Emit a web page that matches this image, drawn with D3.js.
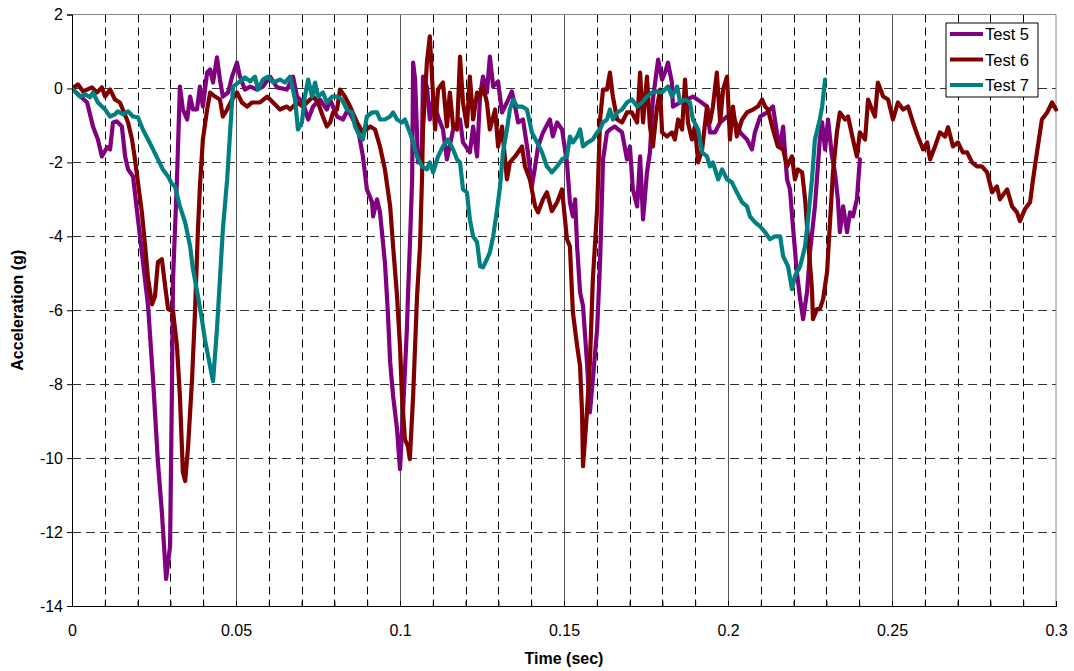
<!DOCTYPE html>
<html lang="en">
<head>
<meta charset="UTF-8">
<title>Acceleration vs Time</title>
<script src="https://d3js.org/d3.v7.min.js"></script>
<style>
  body { margin: 0; background: #fff; font-family: "Liberation Sans", Arial, sans-serif; }
  .tick text { font-size: 16px; fill: #000; }
</style>
</head>
<body>
<svg width="1074" height="671"></svg>
<script>
// series: [time (sec), acceleration (g)]
var test5 = [
  [0,0],[0.0046,-0.38],[0.0064,-1.03],[0.0079,-1.38],[0.0091,-1.84],[0.0107,-1.59],[0.0116,-1.65],[0.0125,-0.92],[0.0137,-0.89],[0.0152,-1.03],[0.0162,-1.84],[0.0171,-2.19],[0.0186,-2.38],[0.0232,-5.89],[0.0247,-7.86],[0.0262,-10.11],[0.0274,-11.46],[0.0287,-13.27],[0.0299,-12.38],[0.0305,-7.86],[0.0308,-5.16],[0.0320,-2.46],[0.0329,0.05],[0.0338,-0.57],[0.0351,-0.84],[0.0360,-0.22],[0.0369,-0.57],[0.0381,-0.57],[0.0390,0.05],[0.0399,-0.49],[0.0412,0.43],[0.0421,0.51],[0.0430,0.16],[0.0442,0.84],[0.0451,0.24],[0.0460,-0.22],[0.0476,-0.11],[0.0488,0.32],[0.0503,0.70],[0.0512,0.32],[0.0527,-0.03],[0.0543,0.05],[0.0564,-0.03],[0.0582,0.05],[0.0604,0.32],[0.0625,0.03],[0.0655,-0.03],[0.0674,0.32],[0.0686,-0.22],[0.0704,-0.38],[0.0720,-0.84],[0.0735,-0.49],[0.0756,-0.30],[0.0777,-0.57],[0.0787,-0.30],[0.0808,-0.76],[0.0826,-0.84],[0.0841,-0.57],[0.0857,-0.84],[0.0872,-1.11],[0.0887,-1.84],[0.0899,-2.73],[0.0915,-3.08],[0.0918,-3.46],[0.0930,-3.00],[0.0939,-3.35],[0.0954,-4.70],[0.0963,-6.05],[0.0970,-7.41],[0.0979,-8.32],[0.0991,-9.22],[0.1000,-10.30],[0.1009,-8.76],[0.1021,-6.51],[0.1024,-5.70],[0.1030,-4.27],[0.1037,-2.46],[0.1040,0.70],[0.1046,0.24],[0.1055,-2.00],[0.1067,-1.65],[0.1070,0.32],[0.1082,0.05],[0.1091,-0.84],[0.1101,-0.30],[0.1116,-0.76],[0.1131,-1.11],[0.1143,-1.92],[0.1162,-1.11],[0.1183,-0.84],[0.1192,-1.46],[0.1213,-1.73],[0.1223,-1.03],[0.1235,-1.84],[0.1244,-0.22],[0.1253,0.32],[0.1265,-0.11],[0.1274,0.86],[0.1284,0.05],[0.1299,0.19],[0.1311,-0.65],[0.1326,-0.38],[0.1341,-0.08],[0.1351,-0.49],[0.1360,-0.92],[0.1375,-0.84],[0.1390,-1.73],[0.1402,-2.65],[0.1412,-2.11],[0.1421,-1.57],[0.1436,-1.19],[0.1457,-0.84],[0.1466,-1.30],[0.1479,-0.92],[0.1494,-1.11],[0.1509,-2.00],[0.1518,-3.08],[0.1527,-3.46],[0.1534,-3.00],[0.1540,-4.27],[0.1549,-5.51],[0.1558,-5.89],[0.1570,-7.41],[0.1579,-8.76],[0.1588,-7.86],[0.1601,-6.51],[0.1610,-4.70],[0.1619,-1.92],[0.1631,-1.19],[0.1640,-1.11],[0.1655,-1.03],[0.1677,-1.19],[0.1692,-1.92],[0.1701,-1.57],[0.1710,-2.73],[0.1723,-3.19],[0.1732,-1.84],[0.1741,-3.54],[0.1753,-2.27],[0.1762,-1.73],[0.1771,-0.30],[0.1787,0.78],[0.1799,0.24],[0.1808,0.43],[0.1817,0.70],[0.1829,0.16],[0.1832,-0.49],[0.1854,-0.38],[0.1875,-0.30],[0.1893,-0.22],[0.1915,-0.35],[0.1936,-0.49],[0.1945,-1.19],[0.1960,-1.19],[0.1976,-0.92],[0.1997,-0.76],[0.2015,-0.76],[0.2037,-1.19],[0.2058,-1.38],[0.2073,-1.65],[0.2082,-1.19],[0.2098,-0.76],[0.2119,-0.65],[0.2137,-0.49],[0.2149,-1.19],[0.2159,-1.57],[0.2168,-1.03],[0.2180,-2.46],[0.2189,-2.73],[0.2198,-3.73],[0.2210,-4.97],[0.2220,-5.70],[0.2229,-6.24],[0.2241,-5.51],[0.2250,-4.43],[0.2265,-3.19],[0.2280,-1.38],[0.2287,-0.92],[0.2296,-1.65],[0.2305,-0.84],[0.2317,-1.84],[0.2326,-2.27],[0.2335,-3.00],[0.2341,-3.89],[0.2351,-3.19],[0.2363,-3.89],[0.2372,-3.35],[0.2381,-3.46],[0.2393,-3.00],[0.2402,-1.92]
];

var test6 = [
  [0,0],[0.0018,0.11],[0.0034,-0.08],[0.0061,0.03],[0.0076,-0.11],[0.0091,0.03],[0.0101,-0.22],[0.0116,-0.03],[0.0131,-0.30],[0.0146,-0.38],[0.0155,-0.57],[0.0171,-0.92],[0.0183,-1.38],[0.0192,-1.92],[0.0201,-2.54],[0.0213,-3.35],[0.0223,-4.27],[0.0232,-5.16],[0.0244,-5.84],[0.0253,-5.62],[0.0262,-4.70],[0.0274,-4.62],[0.0284,-5.35],[0.0293,-5.97],[0.0308,-6.03],[0.0320,-6.97],[0.0329,-8.32],[0.0338,-10.38],[0.0345,-10.62],[0.0354,-9.68],[0.0366,-7.86],[0.0375,-6.05],[0.0384,-3.81],[0.0390,-2.65],[0.0399,-1.38],[0.0412,-0.57],[0.0421,-0.11],[0.0436,-0.22],[0.0451,-0.30],[0.0460,-0.76],[0.0473,-0.57],[0.0488,-0.30],[0.0503,-0.11],[0.0518,-0.38],[0.0534,-0.49],[0.0549,-0.38],[0.0564,-0.38],[0.0573,-0.38],[0.0595,-0.22],[0.0613,-0.38],[0.0634,-0.57],[0.0655,-0.49],[0.0665,-0.57],[0.0686,-0.38],[0.0704,-0.49],[0.0726,-0.30],[0.0735,-0.22],[0.0750,-0.38],[0.0765,-0.76],[0.0777,-1.03],[0.0787,-0.92],[0.0796,-0.65],[0.0808,-0.57],[0.0817,-0.03],[0.0832,-0.22],[0.0848,-0.49],[0.0869,-0.92],[0.0887,-1.19],[0.0909,-1.03],[0.0924,-1.11],[0.0939,-1.57],[0.0954,-2.19],[0.0970,-3.19],[0.0979,-4.27],[0.0991,-5.62],[0.1000,-6.97],[0.1006,-8.32],[0.1015,-9.49],[0.1024,-9.68],[0.1030,-10.03],[0.1040,-8.32],[0.1046,-6.97],[0.1052,-5.62],[0.1061,-4.27],[0.1067,-2.46],[0.1070,-1.11],[0.1082,0.70],[0.1091,1.41],[0.1098,0.24],[0.1107,-1.11],[0.1116,-0.03],[0.1122,0.05],[0.1131,0.16],[0.1143,-1.03],[0.1152,-0.11],[0.1162,-1.03],[0.1174,-1.11],[0.1183,0.86],[0.1192,-0.38],[0.1204,-1.03],[0.1213,0.32],[0.1223,-0.84],[0.1235,-0.11],[0.1244,-0.22],[0.1253,0.05],[0.1265,-0.38],[0.1274,-1.11],[0.1290,-0.57],[0.1299,-1.57],[0.1311,-1.03],[0.1326,-2.46],[0.1335,-2.00],[0.1351,-1.84],[0.1372,-1.57],[0.1381,-2.11],[0.1396,-2.46],[0.1412,-3.19],[0.1421,-3.35],[0.1436,-3.00],[0.1448,-2.81],[0.1463,-3.32],[0.1479,-3.08],[0.1494,-2.73],[0.1503,-3.54],[0.1509,-4.08],[0.1518,-4.27],[0.1527,-6.05],[0.1540,-6.97],[0.1549,-7.51],[0.1555,-8.76],[0.1558,-10.22],[0.1570,-8.76],[0.1579,-7.41],[0.1588,-5.16],[0.1601,-3.27],[0.1610,-0.84],[0.1619,-0.03],[0.1631,-0.03],[0.1640,0.43],[0.1649,-0.22],[0.1662,-0.84],[0.1677,-0.92],[0.1692,-0.65],[0.1707,-0.65],[0.1723,-0.92],[0.1732,0.43],[0.1741,-0.92],[0.1753,0.32],[0.1762,-1.03],[0.1771,-1.57],[0.1784,-0.49],[0.1793,-0.03],[0.1799,-1.19],[0.1814,-1.30],[0.1829,-1.19],[0.1838,-1.38],[0.1848,-0.84],[0.1860,-1.11],[0.1869,0.24],[0.1878,-0.92],[0.1890,-1.38],[0.1899,-1.03],[0.1909,-2.00],[0.1921,-1.65],[0.1936,-0.49],[0.1945,-0.92],[0.1954,-0.49],[0.1966,0.43],[0.1976,-0.92],[0.1985,-0.03],[0.1997,0.32],[0.2006,-1.38],[0.2015,-0.49],[0.2027,-1.30],[0.2043,-0.84],[0.2058,-0.65],[0.2076,-0.57],[0.2091,-0.49],[0.2104,-0.30],[0.2113,-0.49],[0.2122,-0.57],[0.2137,-1.11],[0.2152,-1.57],[0.2168,-1.65],[0.2180,-2.11],[0.2195,-1.84],[0.2204,-2.46],[0.2213,-2.19],[0.2226,-2.27],[0.2235,-3.00],[0.2244,-4.08],[0.2256,-5.43],[0.2259,-6.24],[0.2271,-5.97],[0.2280,-5.97],[0.2290,-5.70],[0.2302,-4.97],[0.2311,-3.62],[0.2320,-2.27],[0.2332,-1.19],[0.2341,-0.65],[0.2357,-0.84],[0.2366,-0.76],[0.2381,-1.38],[0.2393,-1.84],[0.2402,-1.19],[0.2418,-1.38],[0.2427,-0.30],[0.2439,-0.57],[0.2448,-0.76],[0.2457,0.16],[0.2473,-0.22],[0.2488,-0.30],[0.2503,-0.84],[0.2518,-0.38],[0.2534,-0.57],[0.2549,-0.49],[0.2564,-0.92],[0.2579,-1.30],[0.2595,-1.65],[0.2607,-1.46],[0.2616,-1.92],[0.2631,-1.57],[0.2646,-1.19],[0.2662,-1.30],[0.2671,-1.05],[0.2686,-1.57],[0.2701,-1.46],[0.2716,-1.73],[0.2729,-1.73],[0.2744,-2.00],[0.2759,-2.11],[0.2774,-2.11],[0.2790,-2.27],[0.2805,-2.81],[0.2820,-2.65],[0.2829,-3.00],[0.2851,-2.73],[0.2866,-3.19],[0.2881,-3.35],[0.2890,-3.59],[0.2905,-3.27],[0.2921,-3.08],[0.2930,-2.46],[0.2942,-1.73],[0.2957,-0.84],[0.2973,-0.65],[0.2988,-0.38],[0.3000,-0.57]
];

var test7 = [
  [0,0],[0.0024,-0.22],[0.0040,-0.16],[0.0055,-0.24],[0.0064,-0.11],[0.0079,-0.38],[0.0101,-0.57],[0.0116,-0.76],[0.0131,-0.70],[0.0140,-0.62],[0.0155,-0.70],[0.0171,-0.62],[0.0186,-0.76],[0.0201,-0.78],[0.0216,-1.11],[0.0232,-1.38],[0.0247,-1.65],[0.0262,-1.92],[0.0277,-2.19],[0.0293,-2.38],[0.0305,-2.59],[0.0314,-2.65],[0.0329,-3.19],[0.0345,-3.62],[0.0360,-4.27],[0.0369,-4.89],[0.0384,-5.62],[0.0396,-6.24],[0.0405,-6.78],[0.0421,-7.51],[0.0430,-7.92],[0.0442,-6.51],[0.0451,-5.16],[0.0460,-3.81],[0.0473,-2.46],[0.0482,-1.19],[0.0491,0.05],[0.0512,0.19],[0.0527,0.30],[0.0543,0.19],[0.0558,0.32],[0.0567,-0.03],[0.0582,0.24],[0.0598,0.32],[0.0613,0.16],[0.0634,0.24],[0.0649,0.16],[0.0665,0.32],[0.0680,-0.30],[0.0689,-1.11],[0.0701,-0.92],[0.0710,-0.22],[0.0720,0.24],[0.0732,-0.22],[0.0741,0.16],[0.0750,-0.22],[0.0765,-0.11],[0.0777,-0.38],[0.0793,-0.22],[0.0808,-0.22],[0.0823,-0.30],[0.0838,-0.57],[0.0854,-0.65],[0.0863,-1.03],[0.0878,-1.30],[0.0887,-1.38],[0.0899,-0.76],[0.0915,-0.65],[0.0930,-0.65],[0.0939,-0.84],[0.0954,-0.84],[0.0970,-0.76],[0.0979,-0.65],[0.0991,-0.84],[0.1006,-0.92],[0.1015,-0.84],[0.1030,-1.19],[0.1040,-1.46],[0.1052,-1.84],[0.1067,-2.11],[0.1082,-2.19],[0.1091,-2.00],[0.1101,-2.27],[0.1116,-1.84],[0.1131,-1.57],[0.1146,-1.38],[0.1162,-1.65],[0.1174,-1.92],[0.1183,-2.00],[0.1192,-2.73],[0.1204,-2.81],[0.1213,-3.54],[0.1223,-4.00],[0.1235,-4.16],[0.1244,-4.81],[0.1253,-4.84],[0.1265,-4.62],[0.1274,-4.43],[0.1284,-4.00],[0.1296,-3.27],[0.1305,-2.65],[0.1314,-1.73],[0.1326,-1.11],[0.1335,-0.57],[0.1345,-0.30],[0.1357,-0.49],[0.1372,-0.49],[0.1387,-0.57],[0.1402,-1.19],[0.1418,-1.46],[0.1433,-1.73],[0.1448,-2.11],[0.1463,-2.27],[0.1479,-2.11],[0.1494,-1.92],[0.1509,-1.84],[0.1518,-1.30],[0.1527,-1.46],[0.1540,-1.30],[0.1549,-1.11],[0.1558,-1.57],[0.1573,-1.46],[0.1588,-1.38],[0.1601,-1.19],[0.1610,-1.11],[0.1619,-0.92],[0.1631,-0.84],[0.1640,-0.57],[0.1649,-0.84],[0.1662,-0.65],[0.1677,-0.57],[0.1692,-0.38],[0.1707,-0.30],[0.1723,-0.49],[0.1738,-0.38],[0.1753,-0.22],[0.1768,-0.11],[0.1784,-0.08],[0.1799,-0.11],[0.1817,0.05],[0.1829,-0.22],[0.1845,0.05],[0.1854,-0.38],[0.1869,-0.30],[0.1884,-0.38],[0.1893,-0.84],[0.1909,-1.11],[0.1921,-1.73],[0.1936,-1.84],[0.1945,-2.11],[0.1954,-2.00],[0.1970,-2.46],[0.1982,-2.19],[0.1997,-2.46],[0.2012,-2.54],[0.2027,-2.81],[0.2043,-3.08],[0.2058,-3.19],[0.2067,-3.46],[0.2082,-3.62],[0.2098,-3.73],[0.2113,-3.89],[0.2128,-4.08],[0.2143,-4.00],[0.2159,-4.00],[0.2168,-4.54],[0.2183,-4.81],[0.2195,-5.43],[0.2204,-5.08],[0.2220,-4.81],[0.2235,-4.27],[0.2244,-3.54],[0.2256,-2.46],[0.2265,-1.38],[0.2280,-0.84],[0.2287,-0.49],[0.2296,0.24]
];

var seriesNames = ["Test 5", "Test 6", "Test 7"];
var seriesColors = ["#800080", "#800000", "#008080"];
var xTicks = [0, 0.05, 0.1, 0.15, 0.2, 0.25, 0.3];
var xGrid = d3.range(1, 30).map(function(i) { return i / 100; });
var yTicks = [2, 0, -2, -4, -6, -8, -10, -12, -14];

var svg = d3.select("svg");
var pLeft = 72, pRight = 1056, pTop = 14.5, pBottom = 606;

var x = d3.scaleLinear().domain([0, 0.3]).range([pLeft, pRight]);
var y = d3.scaleLinear().domain([-14, 2]).range([pBottom, pTop]);

// vertical grid (dashed every 0.01, solid every 0.05)
svg.append("g").selectAll("line")
    .data(xGrid)
    .enter().append("line")
    .attr("x1", function(d) { return Math.round(x(d)) + 0.5; })
    .attr("x2", function(d) { return Math.round(x(d)) + 0.5; })
    .attr("y1", pTop).attr("y2", pBottom)
    .attr("stroke", function(d) { return Math.round(d * 100) % 5 === 0 ? "#555" : "#000"; })
    .attr("stroke-width", 1)
    .attr("stroke-dasharray", function(d) { return Math.round(d * 100) % 5 === 0 ? null : "8,5"; });

// horizontal grid
svg.append("g").selectAll("line")
    .data(yTicks.filter(function(d) { return d < 2 && d > -14; }))
    .enter().append("line")
    .attr("x1", pLeft).attr("x2", pRight)
    .attr("y1", function(d) { return Math.round(y(d)) + 0.5; })
    .attr("y2", function(d) { return Math.round(y(d)) + 0.5; })
    .attr("stroke", "#333")
    .attr("stroke-dasharray", "9,5");

// frame top/right
svg.append("path")
    .attr("d", "M" + pLeft + "," + pTop + "H" + pRight + "V" + pBottom)
    .attr("fill", "none")
    .attr("stroke", "#888");

svg.append("clipPath").attr("id", "clip")
  .append("rect").attr("x", pLeft).attr("y", pTop - 3)
    .attr("width", pRight - pLeft + 3).attr("height", pBottom - pTop + 3);

var line = d3.line()
    .x(function(d) { return x(d[0]); })
    .y(function(d) { return y(d[1]); });

var plot = svg.append("g").attr("clip-path", "url(#clip)");
[test5, test6, test7].forEach(function(s, i) {
    plot.append("path")
        .datum(s)
        .attr("fill", "none")
        .attr("stroke", seriesColors[i])
        .attr("stroke-width", 4.2)
        .attr("stroke-linejoin", "round")
        .attr("stroke-linecap", "round")
        .attr("d", line);
});

// axes
var xAxis = svg.append("g")
    .attr("transform", "translate(0," + pBottom + ")")
    .call(d3.axisBottom(x).tickValues(xTicks).tickSize(0).tickPadding(19)
        .tickFormat(function(d) { return String(+d.toFixed(2)); }));
xAxis.select(".domain").attr("stroke", "#000");
svg.append("g")
    .attr("transform", "translate(0," + pBottom + ")")
    .call(d3.axisBottom(x).tickValues(xGrid.concat(xTicks)).tickSize(-5).tickFormat(""))
    .select(".domain").attr("stroke", "#000");

var yAxis = svg.append("g")
    .attr("transform", "translate(" + pLeft + ",0)")
    .call(d3.axisLeft(y).tickValues(yTicks).tickSize(5).tickPadding(4)
        .tickFormat(function(d) { return String(d); }));
yAxis.select(".domain").attr("stroke", "#000");

svg.selectAll(".tick text").attr("font-family", "'Liberation Sans', Arial, sans-serif");

// axis titles
svg.append("text")
    .attr("x", (pLeft + pRight) / 2).attr("y", 664)
    .attr("text-anchor", "middle")
    .attr("font-size", 16).attr("font-weight", "bold")
    .text("Time (sec)");

svg.append("text")
    .attr("transform", "translate(23," + (pTop + pBottom) / 2 + ") rotate(-90)")
    .attr("text-anchor", "middle")
    .attr("font-size", 16).attr("font-weight", "bold")
    .text("Acceleration (g)");

// legend
var legend = svg.append("g").attr("transform", "translate(946,23)");
legend.append("rect")
    .attr("width", 92).attr("height", 74)
    .attr("fill", "#fff").attr("stroke", "#000");
seriesNames.forEach(function(name, i) {
    var ly = 11 + i * 25.5;
    legend.append("line")
        .attr("x1", 4).attr("x2", 37)
        .attr("y1", ly).attr("y2", ly)
        .attr("stroke", seriesColors[i]).attr("stroke-width", 4);
    legend.append("text")
        .attr("x", 39).attr("y", ly + 6)
        .attr("font-size", 16.5)
        .text(name);
});
</script>
</body>
</html>
